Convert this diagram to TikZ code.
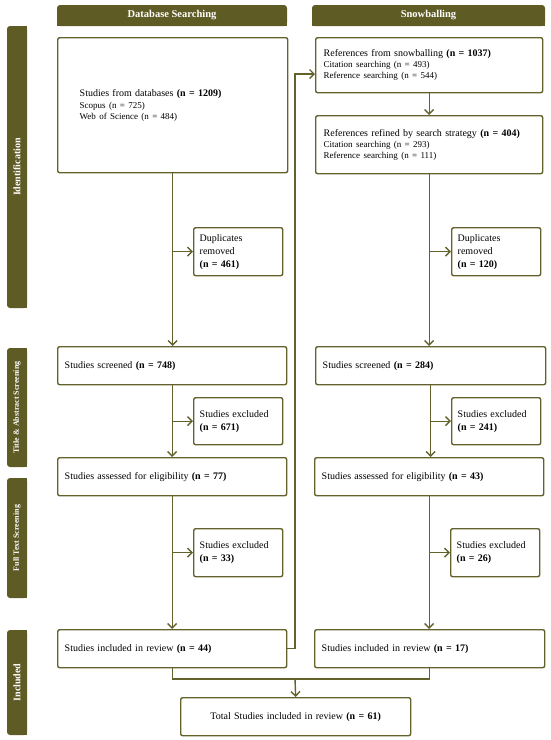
\documentclass[tikz,border=0pt]{standalone}
\usepackage{fontspec}
\setmainfont{Liberation Serif}
\usetikzlibrary{arrows.meta,calc}
\definecolor{olivebar}{RGB}{94,91,37}
\definecolor{oliveline}{RGB}{100,98,44}
\newcommand\subf{\fontsize{9}{11}\selectfont}
\begin{document}
\begin{tikzpicture}[x=1pt,y=-1pt,
  box/.style={draw=oliveline, line width=1.4pt, rounded corners=2pt, fill=white,
    anchor=north west, align=left, inner ysep=0pt, inner xsep=7pt,
    font=\fontsize{10}{13}\selectfont},
  sbox/.style={box, text width=77pt, inner xsep=6pt},
  arr/.style={draw=oliveline, line width=1.4pt,
    -{Straight Barb[length=4.5pt,width=9pt,line width=1.4pt]}},
  ln/.style={draw=oliveline, line width=1.4pt},
  hdrtxt/.style={text=white, font=\bfseries\fontsize{10.5}{12}\selectfont, inner sep=0pt},
  sidetxt/.style={text=white, rotate=90, inner sep=0pt},
  bar/.style={fill=olivebar}
]
\useasboundingbox (0,0) rectangle (550,740);

% headers
\fill[bar, rounded corners=3pt] (57,5) rectangle (287,26);
\fill[bar] (57,15) rectangle (287,26);
\node[hdrtxt] (h1) at (172,15.5) {Database Searching};
\fill[bar, rounded corners=3pt] (312,5) rectangle (545,26);
\fill[bar] (312,15) rectangle (545,26);
\node[hdrtxt] (h2) at (428.5,15.5) {Snowballing};

% side bars
\fill[bar, rounded corners=3pt] (7,26) rectangle (27,308);
\fill[bar] (17,26) rectangle (27,308);
\node[sidetxt, font=\bfseries\fontsize{10}{12}\selectfont] (s1) at (17,167) {Identification};
\fill[bar, rounded corners=3pt] (7,348) rectangle (27,467);
\fill[bar] (17,348) rectangle (27,467);
\node[sidetxt, font=\bfseries\fontsize{8}{9}\selectfont] (s2) at (17,407.5) {Title \& Abstract Screening};
\fill[bar, rounded corners=3pt] (7,478) rectangle (27,598);
\fill[bar] (17,478) rectangle (27,598);
\node[sidetxt, font=\bfseries\fontsize{8}{9}\selectfont] (s3) at (17,538) {Full Text Screening};
\fill[bar, rounded corners=3pt] (7,630) rectangle (27,735);
\fill[bar] (17,630) rectangle (27,735);
\node[sidetxt, font=\bfseries\fontsize{10}{12}\selectfont] (s4) at (17,682.5) {Included};

% left column
\node[box, text width=186pt, inner xsep=22pt, minimum height=135pt] (db) at (57,37)
  {Studies from databases \textbf{(n = 1209)}\par\vspace{1pt}
   {\subf Scopus (n = 725)\\ Web of Science (n = 484)\par}};
\node[sbox, minimum height=48pt] (dup1) at (193,227) {Duplicates\\ removed\\ \textbf{(n = 461)}};
\node[box, text width=215pt, minimum height=38pt] (scr1) at (57,346) {Studies screened \textbf{(n = 748)}};
\node[sbox, minimum height=47pt] (exc1) at (193,397) {Studies excluded\\ \textbf{(n = 671)}};
\node[box, text width=215pt, minimum height=38pt] (ass1) at (57,457) {Studies assessed for eligibility \textbf{(n = 77)}};
\node[sbox, minimum height=48pt] (exc2) at (193,528) {Studies excluded\\ \textbf{(n = 33)}};
\node[box, text width=215pt, minimum height=38pt] (inc1) at (57,629) {Studies included in review \textbf{(n = 44)}};
\node[box, text width=216pt, minimum height=38pt, align=center] (total) at (180,697) {Total Studies included in review \textbf{(n = 61)}};

% right column
\node[box, text width=211pt, inner xsep=8pt, minimum height=55pt] (ref) at (315,37)
  {References from snowballing \textbf{(n = 1037)}\par
   {\subf Citation searching (n = 493)\\ Reference searching (n = 544)\par}};
\node[box, text width=211pt, inner xsep=8pt, minimum height=58pt] (refd) at (315,115)
  {References refined by search strategy \textbf{(n = 404)}\par
   {\subf Citation searching (n = 293)\\ Reference searching (n = 111)\par}};
\node[sbox, minimum height=48pt] (dup2) at (451,227) {Duplicates\\ removed\\ \textbf{(n = 120)}};
\node[box, text width=216pt, minimum height=38pt] (scr2) at (315,346) {Studies screened \textbf{(n = 284)}};
\node[sbox, minimum height=47pt] (exc3) at (451,397) {Studies excluded\\ \textbf{(n = 241)}};
\node[box, text width=215pt, minimum height=38pt] (ass2) at (314,457) {Studies assessed for eligibility \textbf{(n = 43)}};
\node[sbox, minimum height=48pt] (exc4) at (450,528) {Studies excluded\\ \textbf{(n = 26)}};
\node[box, text width=216pt, minimum height=38pt] (inc2) at (314,629) {Studies included in review \textbf{(n = 17)}};

% left connectors
\draw[arr] (db.south) -- (db.south |- scr1.north);
\draw[arr] (db.south |- dup1.west) -- (dup1.west);
\draw[arr] (scr1.south) -- (scr1.south |- ass1.north);
\draw[arr] (scr1.south |- exc1.west) -- (exc1.west);
\draw[arr] (ass1.south) -- (ass1.south |- inc1.north);
\draw[arr] (ass1.south |- exc2.west) -- (exc2.west);

% right connectors
\draw[arr] (ref.south) -- (ref.south |- refd.north);
\draw[arr] (refd.south) -- (refd.south |- scr2.north);
\draw[arr] (refd.south |- dup2.west) -- (dup2.west);
\draw[arr] (scr2.south) -- (scr2.south |- ass2.north);
\draw[arr] (scr2.south |- exc3.west) -- (exc3.west);
\draw[arr] (ass2.south) -- (ass2.south |- inc2.north);
\draw[arr] (ass2.south |- exc4.west) -- (exc4.west);

% bypass and merge
\coordinate (byp) at (295,74);
\draw[arr] (inc1.east) -| (byp) -- (ref.west |- byp);
\coordinate (mg) at (295,679);
\draw[ln] (inc1.south) |- (mg) -| (inc2.south);
\draw[arr] (mg) -- (total.north);
\end{tikzpicture}
\end{document}
